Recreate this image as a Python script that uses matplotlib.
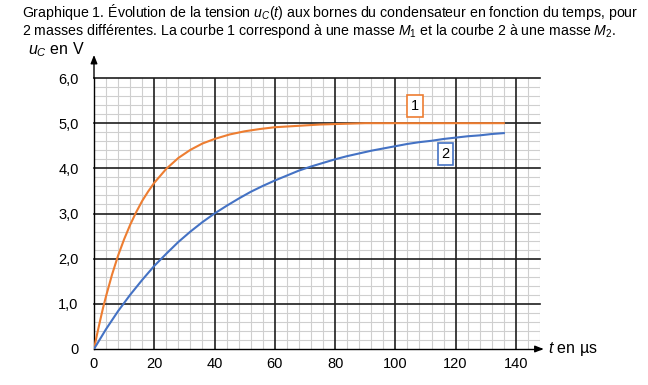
import matplotlib.pyplot as plt
from matplotlib.ticker import MultipleLocator, FixedLocator, FixedFormatter

plt.rcParams.update({
    "font.family": "Liberation Sans",
    "font.size": 10,
    "mathtext.fontset": "custom",
    "mathtext.rm": "Liberation Sans",
    "mathtext.it": "Liberation Sans:italic",
})

# values
t1 = [0, 1, 2, 3, 4, 6, 8, 10, 12, 14, 16, 18, 20, 24, 28, 32, 36, 40, 45, 50,
      55, 60, 65, 70, 75, 80, 85, 90, 100, 110, 120, 136]
u1 = [0, 0.32, 0.62, 0.91, 1.17, 1.65, 2.07, 2.43, 2.75, 3.03, 3.28, 3.49, 3.68,
      3.99, 4.23, 4.41, 4.55, 4.65, 4.75, 4.82, 4.87, 4.91, 4.93, 4.95, 4.97,
      4.98, 4.99, 5.0, 5.0, 5.0, 5.0, 5.0]

t2 = [0, 2, 4, 6, 8, 10, 12, 16, 20, 24, 28, 32, 36, 40, 44, 48, 52, 56, 60, 64,
      68, 72, 76, 80, 84, 88, 92, 96, 100, 104, 108, 112, 116, 120, 124, 128, 132, 136]
u2 = [0, 0.22, 0.44, 0.64, 0.84, 1.02, 1.20, 1.53, 1.84, 2.11, 2.37, 2.60, 2.81,
      3.00, 3.17, 3.33, 3.48, 3.61, 3.73, 3.84, 3.95, 4.04, 4.12, 4.20, 4.27,
      4.33, 4.39, 4.44, 4.49, 4.54, 4.58, 4.61, 4.65, 4.68, 4.71, 4.73, 4.76, 4.78]

x_ticks = [0, 20, 40, 60, 80, 100, 120, 140]
y_ticks = [0, 1, 2, 3, 4, 5, 6]
y_labels = ["0", "1,0", "2,0", "3,0", "4,0", "5,0", "6,0"]

ORANGE = "#ED7D31"
BLUE = "#4472C4"
MAJOR = "#1e1e1e"

fig = plt.figure(figsize=(6.48, 3.85), dpi=100)
ax = fig.add_axes([94 / 648, 1 - 349 / 385, 446 / 648, 271 / 385])

ax.set_xlim(0, 148)
ax.set_ylim(0, 6)

ax.xaxis.set_major_locator(FixedLocator(x_ticks))
ax.xaxis.set_minor_locator(MultipleLocator(4))
ax.yaxis.set_major_locator(FixedLocator(y_ticks))
ax.yaxis.set_major_formatter(FixedFormatter(y_labels))
ax.yaxis.set_minor_locator(MultipleLocator(0.2))

# light minor grid, dark major lines drawn on top of it
ax.grid(which="minor", color="#cfcfcf", linewidth=0.8)
ax.set_axisbelow(True)
for x in x_ticks[1:]:
    ax.axvline(x, color=MAJOR, linewidth=1.2, zorder=1)
for y in y_ticks[1:]:
    ax.axhline(y, color=MAJOR, linewidth=1.2, zorder=1, clip_on=False)

ax.tick_params(which="both", length=0, labelsize=10.5)
ax.tick_params(axis="y", pad=11)
ax.tick_params(axis="x", pad=6)

for s in ["top", "right"]:
    ax.spines[s].set_visible(False)
for s in ["left", "bottom"]:
    ax.spines[s].set_color("black")
    ax.spines[s].set_linewidth(1.0)

ax.plot(t1, u1, color=ORANGE, linewidth=1.5, zorder=3)
ax.plot(t2, u2, color=BLUE, linewidth=1.5, zorder=3)

ax.text(106.5, 5.38, "1", ha="center", va="center", fontsize=10.5, zorder=4,
        bbox=dict(boxstyle="square,pad=0.25", facecolor="white", edgecolor=ORANGE, linewidth=1.2))
ax.text(116.7, 4.32, "2", ha="center", va="center", fontsize=10.5, zorder=4,
        bbox=dict(boxstyle="square,pad=0.25", facecolor="white", edgecolor=BLUE, linewidth=1.2))

# axis arrows
ax.annotate("", xy=(0, 1.085), xytext=(0, 1.0), xycoords="axes fraction",
            arrowprops=dict(arrowstyle="-|>,head_length=0.5,head_width=0.2",
                            color="black", linewidth=1.0, shrinkA=0, shrinkB=0))
ax.annotate("", xy=(1.008, 0), xytext=(1.0, 0), xycoords="axes fraction",
            arrowprops=dict(arrowstyle="-|>,head_length=0.5,head_width=0.2",
                            color="black", linewidth=1.0, shrinkA=0, shrinkB=0))

fig.text(28 / 648, 1 - 50 / 385, r"$u_C$ en V", fontsize=11.5, va="center", ha="left")
fig.text(548 / 648, 1 - 349 / 385, r"$t$ en µs", fontsize=11.5, va="center", ha="left")

fig.text(22 / 648, 1 - 12 / 385,
         r"Graphique 1. Évolution de la tension $u_C(t)$ aux bornes du condensateur en fonction du temps, pour",
         fontsize=10.2, va="center", ha="left")
fig.text(22 / 648, 1 - 31.5 / 385,
         r"2 masses différentes. La courbe 1 correspond à une masse $M_1$ et la courbe 2 à une masse $M_2$.",
         fontsize=10.2, va="center", ha="left")

fig.savefig("out.png", dpi=100)
